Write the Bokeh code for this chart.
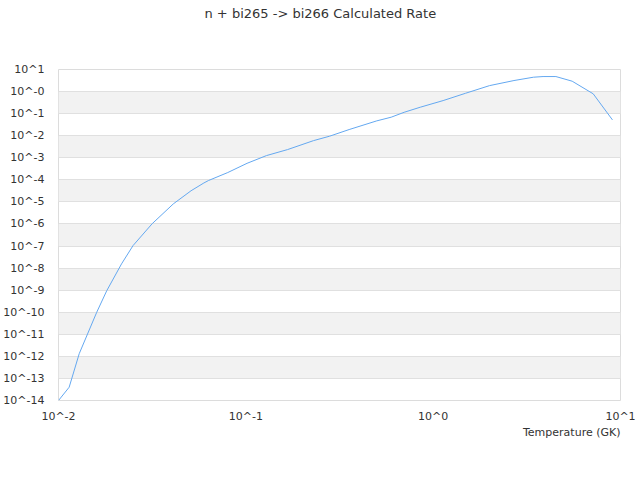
from bokeh.plotting import figure
from bokeh.models import FixedTicker, CustomJSTickFormatter, Title, ColumnDataSource
from bokeh.embed import file_html
from bokeh.resources import INLINE

# Temperature (GK) and calculated rate
temperature = [0.01, 0.0114, 0.0129, 0.016, 0.0181, 0.0217, 0.025, 0.0316, 0.041,
               0.051, 0.0597, 0.0632, 0.0801, 0.1015, 0.129, 0.167, 0.23,
               0.28, 0.356, 0.50, 0.597, 0.70, 0.853, 1.13, 1.49, 2.0, 2.7,
               3.43, 3.86, 4.52, 5.52, 7.15, 9.06]
rate = [1.0e-14, 4.0e-14, 1.32e-12, 1.0e-10, 9.5e-10, 1.55e-8, 1.05e-7, 1.02e-6, 8.1e-6,
        3.2e-5, 7.2e-5, 9.3e-5, 2.14e-4, 5.6e-4, 1.26e-3, 2.35e-3, 6.0e-3,
        9.5e-3, 1.9e-2, 4.7e-2, 6.9e-2, 0.115, 0.195, 0.39, 0.84, 1.86, 3.16,
        4.47, 4.79, 4.79, 2.95, 0.79, 0.052]

x_ticks = [0.01, 0.1, 1.0, 10.0]
x_exps = [-2, -1, 0, 1]
x_tick_labels = ["10^-2", "10^-1", "10^0", "10^1"]

y_ticks = [1e-14, 1e-13, 1e-12, 1e-11, 1e-10, 1e-9, 1e-8, 1e-7, 1e-6, 1e-5,
           1e-4, 1e-3, 1e-2, 1e-1, 1e0, 1e1]
y_exps = [-14, -13, -12, -11, -10, -9, -8, -7, -6, -5, -4, -3, -2, -1, 0, 1]
y_tick_labels = ["10^-14", "10^-13", "10^-12", "10^-11", "10^-10", "10^-9", "10^-8",
                 "10^-7", "10^-6", "10^-5", "10^-4", "10^-3", "10^-2", "10^-1",
                 "10^-0", "10^1"]

title_text = "n + bi265 -> bi266 Calculated Rate"
x_label = "Temperature (GK)"

source = ColumnDataSource(data=dict(t=temperature, r=rate))

p = figure(width=640, height=464, x_axis_type="log", y_axis_type="log",
           x_range=(x_ticks[0], x_ticks[-1]), y_range=(y_ticks[0], y_ticks[-1]),
           output_backend="svg", toolbar_location=None, title_location=None,
           min_border_left=0, min_border_right=20, min_border_top=69,
           min_border_bottom=64)

p.line("t", "r", source=source, line_color="#64a8f0", line_width=1)

fmt_code = "const e = Math.round(Math.log10(tick)); const i = exps.indexOf(e); return i >= 0 ? labels[i] : '';"

for ax, ticks, exps, labels in ((p.xaxis[0], x_ticks, x_exps, x_tick_labels),
                                (p.yaxis[0], y_ticks, y_exps, y_tick_labels)):
    ax.ticker = FixedTicker(ticks=ticks, minor_ticks=[])
    ax.formatter = CustomJSTickFormatter(args=dict(exps=exps, labels=labels), code=fmt_code)
    ax.axis_line_color = None
    ax.major_tick_line_color = None
    ax.minor_tick_line_color = None
    ax.major_label_text_font = "DejaVu Sans"
    ax.major_label_text_font_size = "11px"
    ax.major_label_text_color = "#333333"

p.yaxis[0].major_label_standoff = 8
p.xaxis[0].major_label_standoff = 3

# spacer between frame and title, then the title itself (farther from the frame)
p.add_layout(Title(text=" ", text_font_size="42px", standoff=0), "above")
p.add_layout(Title(text=title_text, align="left", offset=146, text_font="DejaVu Sans",
                   text_font_size="13px", text_font_style="normal",
                   text_color="#333333", standoff=0), "above")

p.add_layout(Title(text=x_label, align="right", text_font="DejaVu Sans",
                   text_font_size="11px", text_font_style="normal",
                   text_color="#333333", standoff=-3), "below")

p.xgrid.visible = False
p.ygrid.grid_line_color = "#e0e0e0"
p.ygrid.band_fill_color = "#f2f2f2"
p.ygrid.band_fill_alpha = 1.0
p.outline_line_color = "#dcdcdc"
p.background_fill_color = "white"
p.border_fill_color = "white"

open("out.html", "w").write(file_html(p, INLINE))
